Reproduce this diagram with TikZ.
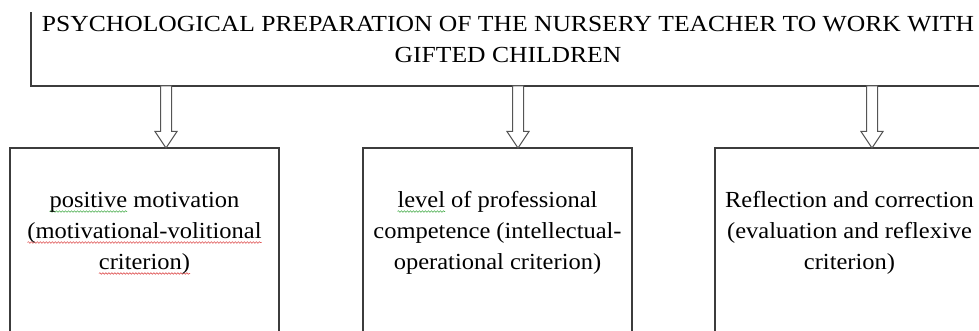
\documentclass[tikz,border=0pt]{standalone}
\usepackage{fontspec}
\setmainfont{Liberation Serif}
\newfontfamily\headfont[FakeStretch=1.112]{Liberation Serif}
\newfontfamily\cellfont[FakeStretch=1.065]{Liberation Serif}
\usetikzlibrary{calc,decorations.pathmorphing}
\definecolor{edge}{HTML}{3C3C3C}
\definecolor{arrowgray}{HTML}{555555}
\definecolor{spellred}{HTML}{E05A5A}
\definecolor{spellgreen}{HTML}{4CAF50}
% word with a wavy proofing underline
\newsavebox\wavedword
\newcommand{\wavyword}[2]{\sbox\wavedword{#2}\leavevmode
  \tikz[overlay,baseline=0pt]\draw[#1, line width=0.6pt, decorate,
    decoration={snake, amplitude=0.8pt, segment length=3pt}]
    (0pt,-4.5pt) -- (\wd\wavedword,-4.5pt);\usebox\wavedword}
\begin{document}
\begin{tikzpicture}[x=1pt,y=1pt,
  frame/.style={draw=edge, line width=1.1pt, inner sep=0pt, outer sep=0pt, anchor=north west},
  hollow/.style={draw=arrowgray, line width=1pt, fill=white, line join=miter},
  celltext/.style={align=center, inner sep=0pt, anchor=base, font=\cellfont\fontsize{23}{31}\selectfont},
  headtext/.style={align=center, inner sep=0pt, anchor=base, font=\headfont\fontsize{23}{31}\selectfont}]
\useasboundingbox (0,0) rectangle (979,-331);
% boxes (their outer parts run off the page)
\begin{scope}
  \clip (0,-12.5) rectangle (979,-331);
  \node[frame, minimum width=954pt, minimum height=84pt] (top) at (31,-2) {};
  \node[frame, minimum width=269pt, minimum height=220pt] (b1) at (10,-148) {};
  \node[frame, minimum width=269pt, minimum height=220pt] (b2) at (363,-148) {};
  \node[frame, minimum width=269pt, minimum height=220pt] (b3) at (715,-148) {};
\end{scope}
% heading (base anchor sits on the last line)
\node[headtext] (title) at (508,-63) {PSYCHOLOGICAL PREPARATION OF THE NURSERY TEACHER TO WORK WITH\\GIFTED CHILDREN};
% criteria
\node[celltext] (l1) at ($(b1.north)+(0,-121)$) {\wavyword{spellgreen}{positive} motivation\\\wavyword{spellred}{(motivational-volitional}\\\wavyword{spellred}{criterion)}};
\node[celltext] (l2) at ($(b2.north)+(0,-121)$) {\wavyword{spellgreen}{level} of professional\\competence (intellectual-\\operational criterion)};
\node[celltext] (l3) at ($(b3.north)+(0,-121)$) {Reflection and correction\\(evaluation and reflexive\\criterion)};
% hollow arrows
\coordinate (t1) at ($(b1.north)+(21.5,0)$);
\coordinate (t2) at ($(b2.north)+(20.5,0)$);
\coordinate (t3) at ($(b3.north)+(22.5,0)$);
\foreach \t in {t1,t2,t3}{
  \draw[hollow] (\t) -- ($(\t)+(11,16.5)$) -- ($(\t)+(5.5,16.5)$)
    -- ($(\t |- top.south)+(5.5,0)$) -- ($(\t |- top.south)+(-5.5,0)$)
    -- ($(\t)+(-5.5,16.5)$) -- ($(\t)+(-11,16.5)$) -- cycle;
}
\end{tikzpicture}
\end{document}
